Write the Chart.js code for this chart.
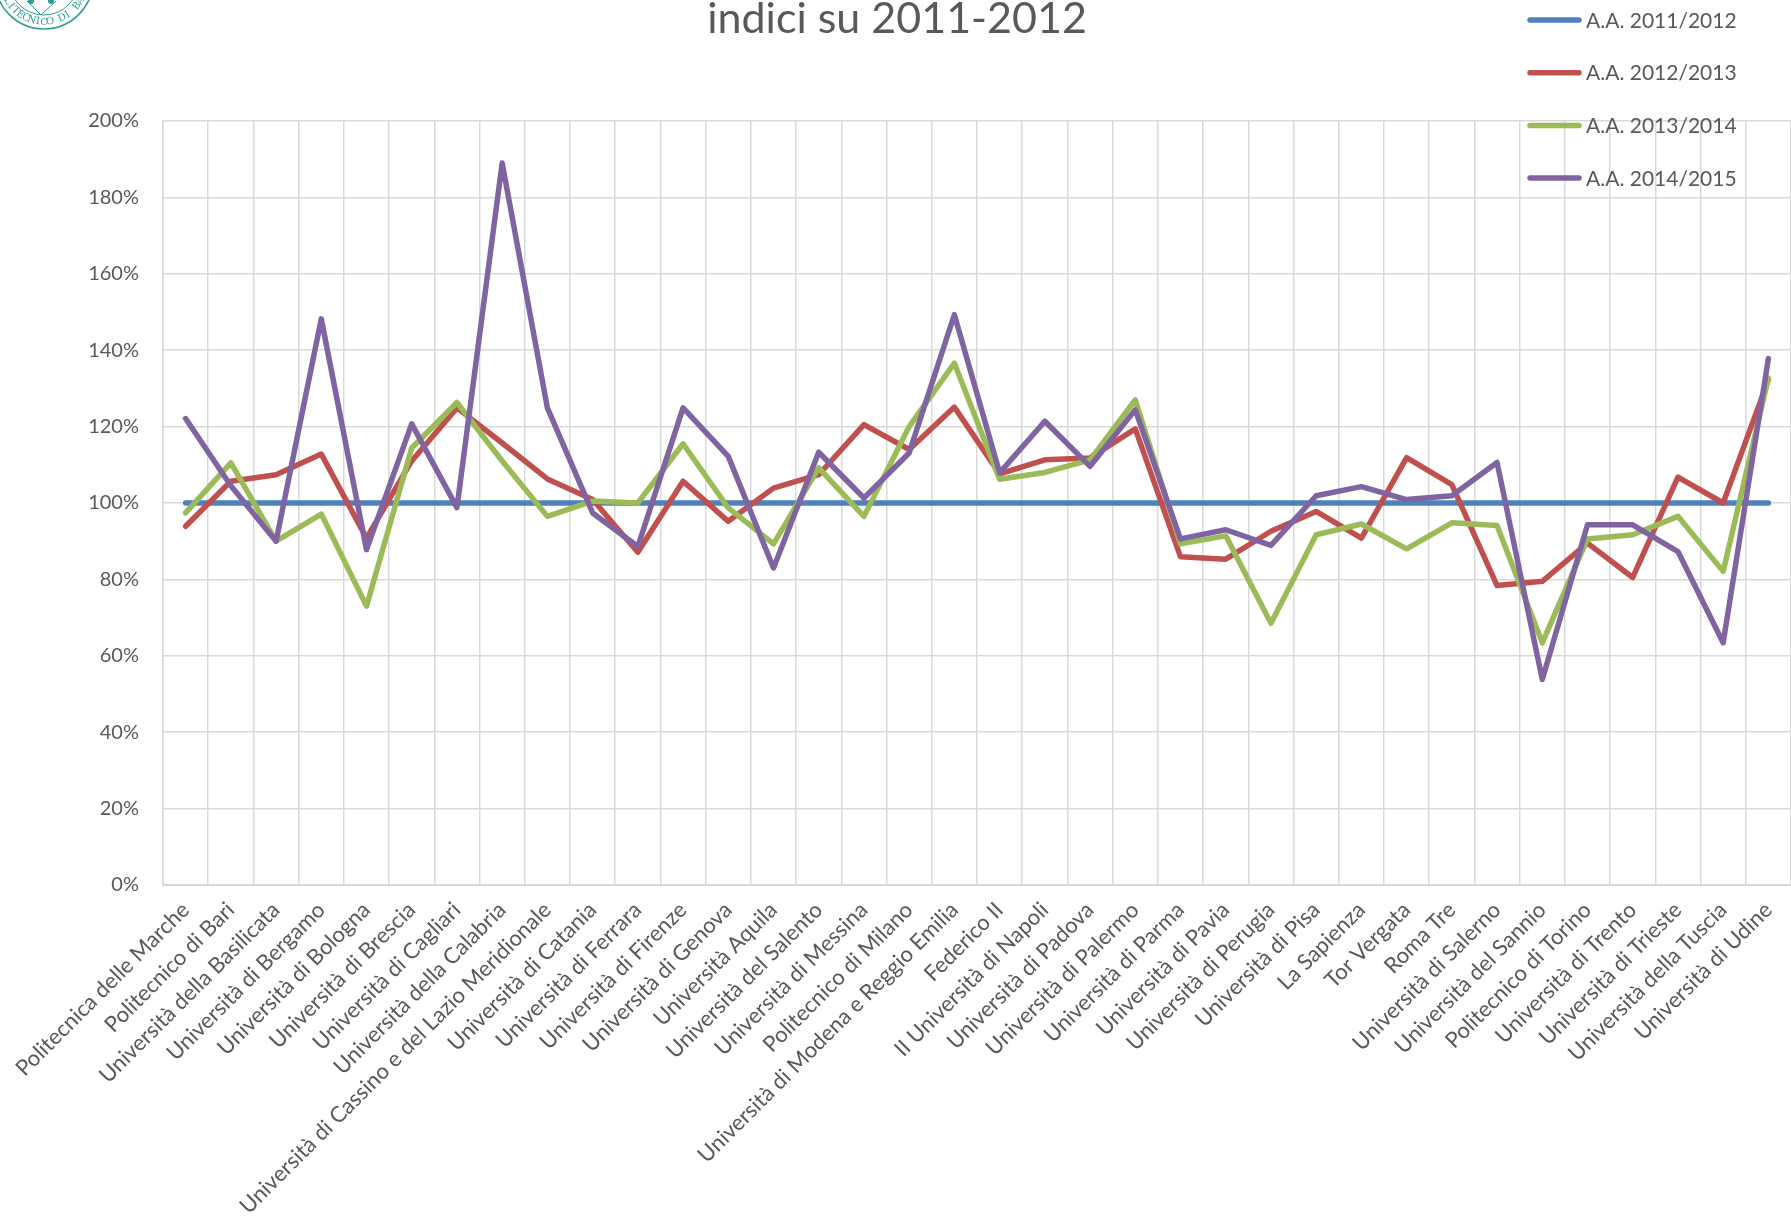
<!DOCTYPE html>
<html lang="it">
<head>
<meta charset="utf-8">
<title>indici su 2011-2012</title>
<script src="https://cdn.jsdelivr.net/npm/chart.js@4.4.1/dist/chart.umd.min.js"></script>
<style>
    html, body { margin: 0; padding: 0; background: #ffffff; }
    #wrap { width: 1791px; height: 1222px; position: relative; }
</style>
</head>
<body>
<div id="wrap"><canvas id="indiciChart"></canvas></div>
<script>
// Atenei (categorie asse X)
const universita = [
    'Politecnica delle Marche', 'Politecnico di Bari', 'Università della Basilicata',
    'Università di Bergamo', 'Università di Bologna', 'Università di Brescia',
    'Università di Cagliari', 'Università della Calabria',
    'Università di Cassino e del Lazio Meridionale', 'Università di Catania',
    'Università di Ferrara', 'Università di Firenze', 'Università di Genova',
    'Università Aquila', 'Università del Salento', 'Università di Messina',
    'Politecnico di Milano', 'Università di Modena e Reggio Emilia', 'Federico II',
    'II Università di Napoli', 'Università di Padova', 'Università di Palermo',
    'Università di Parma', 'Università di Pavia', 'Università di Perugia',
    'Università di Pisa', 'La Sapienza', 'Tor Vergata', 'Roma Tre',
    'Università di Salerno', 'Università del Sannio', 'Politecnico di Torino',
    'Università di Trento', 'Università di Trieste', 'Università della Tuscia',
    'Università di Udine'
];

// Indici in % rispetto al 2011-2012
const aa2011 = [100, 100, 100, 100, 100, 100, 100, 100, 100, 100, 100, 100,
    100, 100, 100, 100, 100, 100, 100, 100, 100, 100, 100, 100,
    100, 100, 100, 100, 100, 100, 100, 100, 100, 100, 100, 100];
const aa2012 = [93.9, 105.7, 107.4, 112.8, 90.8, 111, 124.9, 115.7, 106.3, 100.9, 87.1, 105.7,
    95.2, 103.9, 107.4, 120.5, 114, 125.1, 107.6, 111.3, 111.8, 119.4, 85.9, 85.3,
    92.6, 97.8, 90.8, 111.9, 104.8, 78.4, 79.5, 89.5, 80.5, 106.8, 100, 132.3];
const aa2013 = [97.4, 110.5, 90, 97.1, 73, 114.4, 126.3, 111, 96.5, 100.5, 100, 115.5,
    98.7, 89.3, 109.2, 96.5, 120, 136.6, 106.2, 108, 111.3, 127, 89.3, 91.4,
    68.5, 91.7, 94.5, 88, 94.8, 94.1, 63.4, 90.6, 91.7, 96.5, 82.1, 132.7];
const aa2014 = [122.1, 104.5, 90, 148.2, 87.8, 120.7, 98.8, 189, 124.9, 97.4, 88.6, 124.9,
    112.2, 83, 113.3, 101.3, 113.1, 149.3, 107.9, 121.4, 109.6, 124.4, 90.6, 93,
    88.9, 101.9, 104.3, 100.9, 101.9, 110.6, 53.8, 94.3, 94.3, 87.3, 63.4, 137.8];

const seriesNames = ['A.A. 2011/2012', 'A.A. 2012/2013', 'A.A. 2013/2014', 'A.A. 2014/2015'];
const seriesColors = ['#4F81BD', '#C0504D', '#9BBB59', '#8064A2'];
const yMin = 0, yMax = 200, yStep = 20;

const TEXT = '#595959';
const GRID = '#D9D9D9';

/**
 * Logo (parziale) del Politecnico in alto a sinistra
 */
function drawLogo(ctx) {
    const cx = 44, cy = -20;
    ctx.strokeStyle = '#2E9C94';
    ctx.fillStyle = '#2E9C94';
    ctx.lineWidth = 1.5;
    ctx.beginPath(); ctx.arc(cx, cy, 49, 0, Math.PI * 2); ctx.stroke();
    ctx.lineWidth = 1;
    ctx.beginPath(); ctx.arc(cx, cy, 35, 0, Math.PI * 2); ctx.stroke();
    // V e punti
    ctx.beginPath(); ctx.moveTo(27, 1); ctx.lineTo(41, 15); ctx.lineTo(56, 1); ctx.stroke();
    [31, 51].forEach(x => { ctx.beginPath(); ctx.arc(x, 1, 3, 0, Math.PI * 2); ctx.fill(); });
    // testo ad arco
    const txt = 'POLITECNICO DI BARI';
    ctx.font = '10px "DejaVu Serif"';
    ctx.textAlign = 'center';
    ctx.textBaseline = 'middle';
    const step = 0.15;
    const start = Math.PI / 2 + step * (txt.length - 1) / 2;
    for (let i = 0; i < txt.length; i++) {
        const a = start - i * step;
        ctx.save();
        ctx.translate(cx + 42 * Math.cos(a), cy + 42 * Math.sin(a));
        ctx.rotate(a - Math.PI / 2);
        ctx.fillText(txt[i], 0, 0);
        ctx.restore();
    }
}

/**
 * Titolo, legenda a destra e logo
 */
const decorPlugin = {
    id: 'decor',
    afterDraw(chart) {
        const ctx = chart.ctx;
        ctx.save();
        ctx.fillStyle = TEXT;
        ctx.font = '43px Lato';
        ctx.textAlign = 'center';
        ctx.textBaseline = 'alphabetic';
        ctx.fillText('indici su 2011-2012', 897, 33);

        ctx.font = '21px Lato';
        ctx.textAlign = 'left';
        ctx.textBaseline = 'middle';
        ctx.lineCap = 'round';
        chart.data.datasets.forEach((ds, i) => {
            const y = 20 + i * 52.7;
            ctx.strokeStyle = ds.borderColor;
            ctx.lineWidth = 5.5;
            ctx.beginPath(); ctx.moveTo(1530, y); ctx.lineTo(1579, y); ctx.stroke();
            ctx.fillStyle = TEXT;
            ctx.fillText(ds.label, 1586, y + 1);
        });

        drawLogo(ctx);
        ctx.restore();
    }
};

const seriesData = [aa2011, aa2012, aa2013, aa2014];

new Chart(document.getElementById('indiciChart'), {
    type: 'line',
    data: {
        labels: universita,
        datasets: seriesData.map((values, i) => ({
            label: seriesNames[i],
            data: values,
            borderColor: seriesColors[i],
            backgroundColor: seriesColors[i],
            borderWidth: 5.5,
            borderCapStyle: 'round',
            borderJoinStyle: 'round',
            pointRadius: 0,
            tension: 0,
            order: seriesData.length - i
        }))
    },
    options: {
        responsive: true,
        maintainAspectRatio: false,
        animation: false,
        devicePixelRatio: 1,
        layout: { padding: { top: 121, left: 0, right: 0, bottom: 0 } },
        plugins: {
            legend: { display: false },
            title: { display: false },
            tooltip: { enabled: false }
        },
        scales: {
            x: {
                offset: true,
                grid: { offset: true, color: GRID, lineWidth: 1.5, drawTicks: false },
                border: { color: GRID, width: 2 },
                ticks: {
                    color: TEXT,
                    font: { family: 'Lato', size: 22 },
                    autoSkip: false,
                    maxRotation: 45,
                    minRotation: 45,
                    padding: 12
                },
                afterFit(scale) {
                    scale.height = 1222 - 885;
                    scale.paddingLeft = 0;
                    scale.paddingRight = 0;
                }
            },
            y: {
                min: yMin,
                max: yMax,
                grid: { color: GRID, lineWidth: 1.5, drawTicks: false },
                border: { color: GRID, width: 1.5 },
                ticks: {
                    stepSize: yStep,
                    color: TEXT,
                    font: { family: 'Lato', size: 20 },
                    padding: 24,
                    callback: v => v + '%'
                },
                afterFit(scale) {
                    scale.width = 163;
                    scale.paddingTop = 0;
                    scale.paddingBottom = 0;
                }
            }
        }
    },
    plugins: [decorPlugin]
});
</script>
</body>
</html>
